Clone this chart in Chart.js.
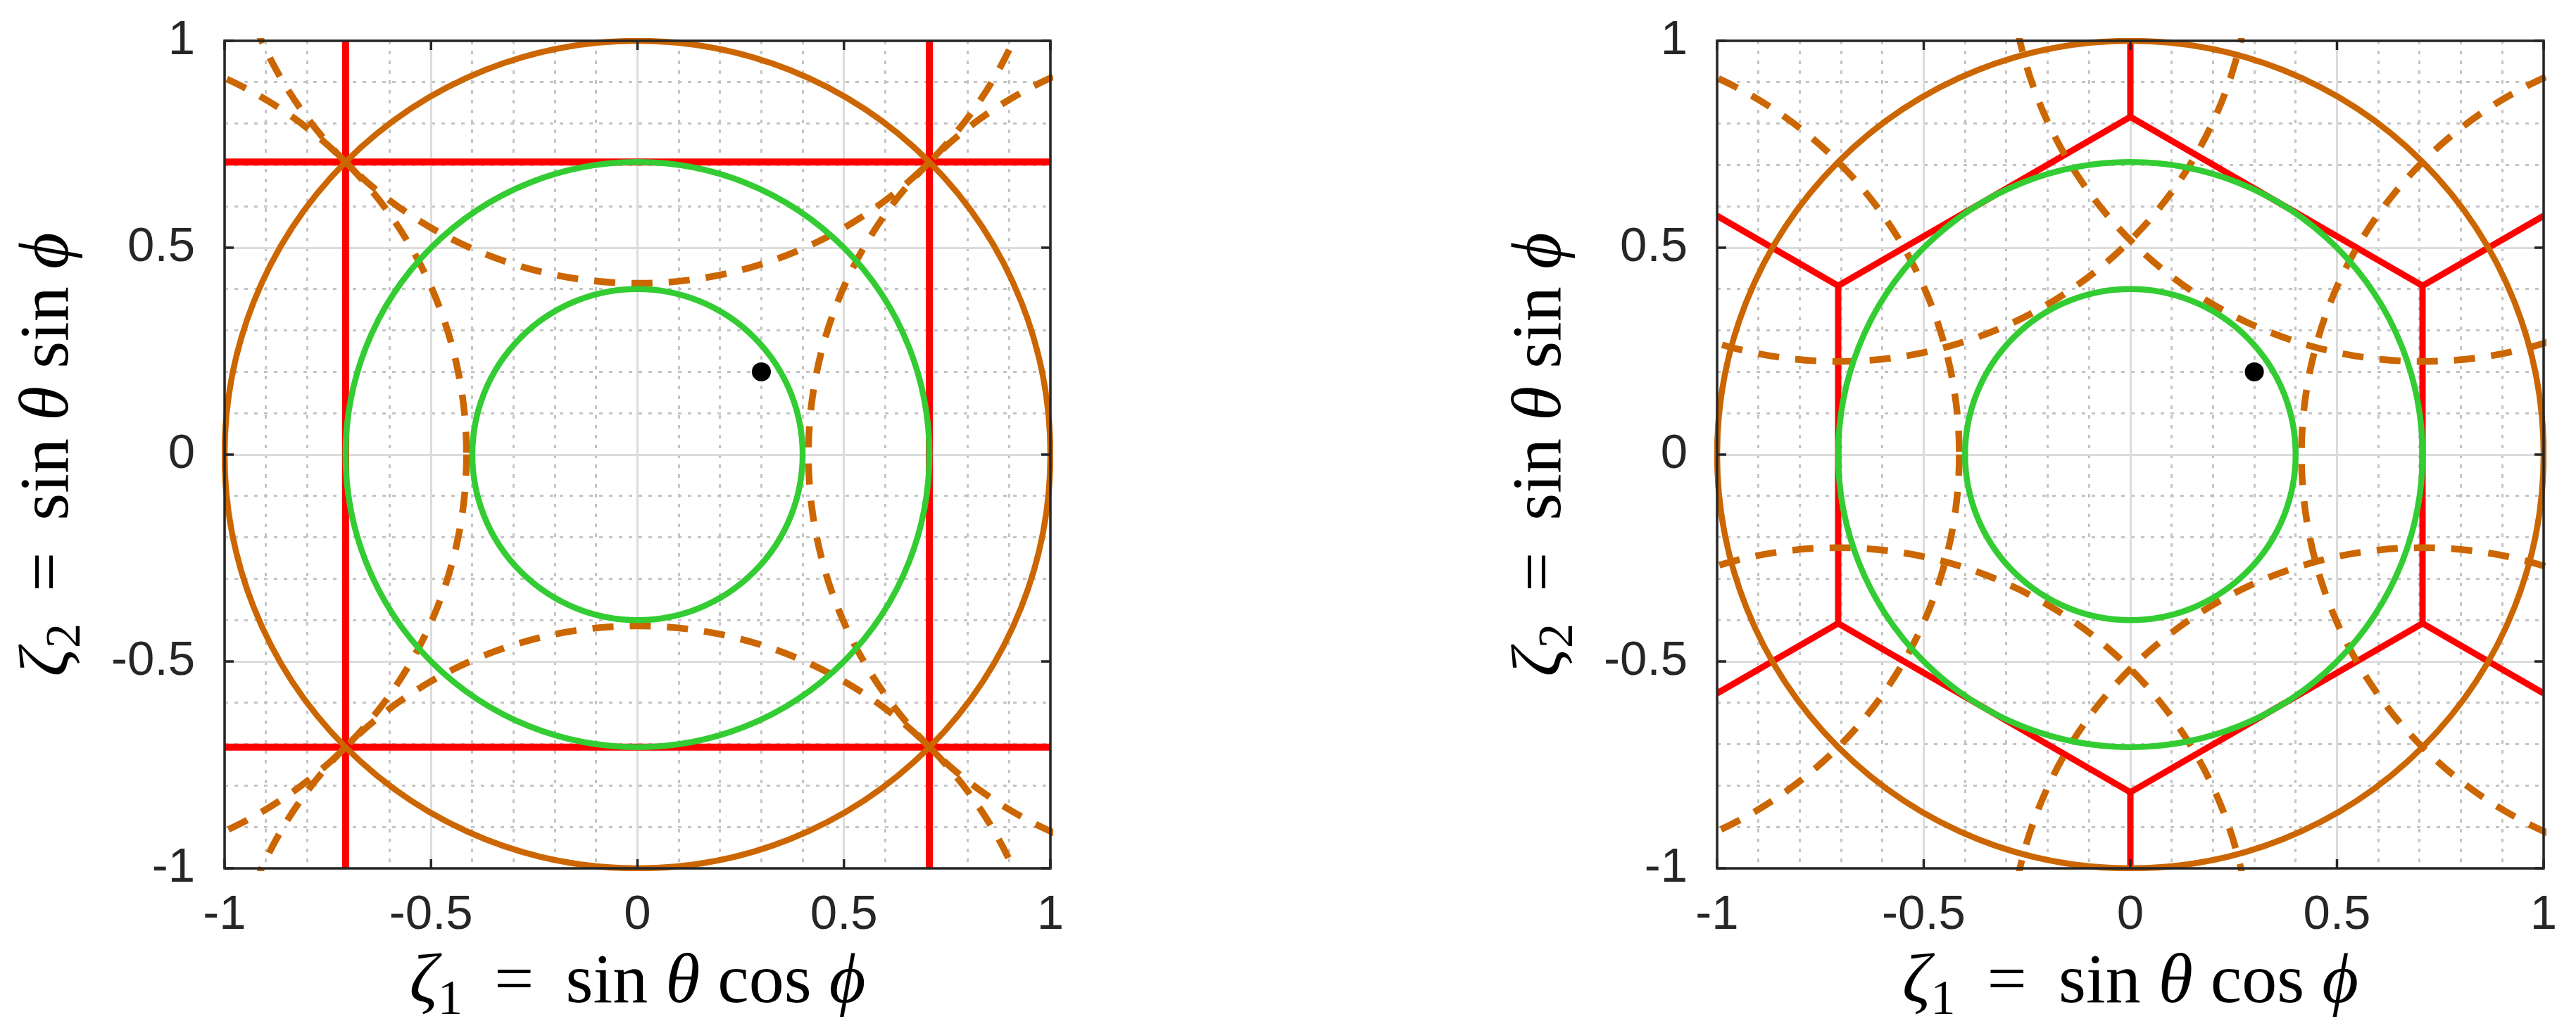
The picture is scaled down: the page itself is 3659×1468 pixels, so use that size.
<!DOCTYPE html>
<html>
<head>
<meta charset="utf-8">
<script src="https://cdn.jsdelivr.net/npm/chart.js@4.4.1/dist/chart.umd.min.js"></script>
<style>
  body { margin: 0; background: #fff; width: 3659px; height: 1468px; overflow: hidden; position: relative; }
  .painel { position: absolute; top: 0; width: 1830px; height: 1468px; }
</style>
</head>
<body>
<div class="painel" style="left:0"><canvas id="graficoQuadrado"></canvas></div>
<div class="painel" style="left:1829px"><canvas id="graficoHexagonal"></canvas></div>
<script>
// ticks
const valoresMaiores = [-1, -0.5, 0, 0.5, 1];
const rotulosMaiores = ['-1', '-0.5', '0', '0.5', '1'];
const valoresMenores = [-0.9, -0.8, -0.7, -0.6, -0.4, -0.3, -0.2, -0.1, 0.1, 0.2, 0.3, 0.4, 0.6, 0.7, 0.8, 0.9];

// circulos comuns aos dois graficos
const raioEsfera = [1.0];
const raiosVerdes = [0.4, 0.707];
const raioTracejado = 1.0;
const pontoX = [0.3];
const pontoY = [0.2];

// grafico quadrado
const bissetrizesX = [-0.707, 0.707];
const bissetrizesY = [-0.707, 0.707];
const centrosQuadX = [1.414, 0, -1.414, 0];
const centrosQuadY = [0, 1.414, 0, -1.414];

// grafico hexagonal
const hexVerticesX = [0, 0.707, 0.707, 0, -0.707, -0.707];
const hexVerticesY = [0.816, 0.408, -0.408, -0.816, -0.408, 0.408];
const raiosFimX = [0, 1, 1, 0, -1, -1];
const raiosFimY = [1, 0.577, -0.577, -1, -0.577, 0.577];
const centrosHexX = [1.414, 0.707, -0.707, -1.414, -0.707, 0.707];
const centrosHexY = [0, 1.225, 1.225, 0, -1.225, -1.225];

const FONTE_SANS = '"Liberation Sans", Arial, sans-serif';
const FONTE_SERIF = '"Liberation Serif", "DejaVu Serif", serif';
const LARANJA = '#cc6600';
const VERDE = '#33cc33';
const VERMELHO = '#ff0000';

const tituloX = [
  { t: '\u03B6', it: true },
  { t: '1', sub: true },
  { t: ' \u2009=\u2009 sin ' },
  { t: '\u03B8', it: true },
  { t: ' cos ' },
  { t: '\u03D5', it: true }
];
const tituloY = [
  { t: '\u03B6', it: true },
  { t: '2', sub: true },
  { t: ' \u2009=\u2009 sin ' },
  { t: '\u03B8', it: true },
  { t: ' sin ' },
  { t: '\u03D5', it: true }
];

function zeraPadding(s) {
  s.paddingTop = 0; s.paddingBottom = 0; s.paddingLeft = 0; s.paddingRight = 0;
}

function criarEixos(larguraY) {
  const maior = pos => ({
    type: 'linear', position: pos, min: -1, max: 1,
    afterBuildTicks: s => { s.ticks = valoresMaiores.map(v => ({ value: v })); },
    ticks: {
      callback: (v, i) => rotulosMaiores[i],
      font: { family: FONTE_SANS, size: 69 },
      color: '#262626',
      padding: pos === 'left' ? 42 : 26,
      autoSkip: false, maxRotation: 0, minRotation: 0
    },
    grid: { color: '#dcdcdc', lineWidth: 3, drawTicks: false },
    border: { display: false },
    afterFit: s => {
      zeraPadding(s);
      if (pos === 'left') s.width = larguraY; else s.height = 234;
    }
  });
  const menor = pos => ({
    type: 'linear', position: pos, min: -1, max: 1,
    afterBuildTicks: s => { s.ticks = valoresMenores.map(v => ({ value: v })); },
    ticks: { display: false },
    grid: { color: '#c4c4c4', lineWidth: 3, drawTicks: false, borderDash: [5, 9] },
    border: { display: false, dash: [5, 9] },
    afterFit: s => {
      zeraPadding(s);
      if (pos === 'left') s.width = 0; else s.height = 0;
    }
  });
  return { xMenor: menor('bottom'), yMenor: menor('left'), x: maior('bottom'), y: maior('left') };
}

function segmento(x1, y1, x2, y2, largura) {
  return {
    data: [{ x: x1, y: y1 }, { x: x2, y: y2 }],
    showLine: true, borderColor: VERMELHO, borderWidth: largura,
    pointRadius: 0, borderCapStyle: 'butt'
  };
}

function textoMisto(ctx, partes, tamanho) {
  const fonte = p => (p.it ? 'italic ' : '') + Math.round(p.sub ? tamanho * 0.7 : tamanho) + 'px ' + FONTE_SERIF;
  let total = 0;
  partes.forEach(p => { ctx.font = fonte(p); p.w = ctx.measureText(p.t).width; total += p.w; });
  let x = -total / 2;
  partes.forEach(p => {
    ctx.font = fonte(p);
    ctx.fillText(p.t, x, p.sub ? tamanho * 0.17 : 0);
    x += p.w;
  });
}

function criarPlugin(cfg) {
  return {
    id: 'desenhoFisico',
    afterDatasetDraw(chart, args) {
      if (args.index !== 1) return;
      const { ctx, chartArea: a } = chart;
      const sx = chart.scales.x, sy = chart.scales.y;
      const circulo = (cx, cy, r) => {
        const px = sx.getPixelForValue(cx), py = sy.getPixelForValue(cy);
        const rx = Math.abs(sx.getPixelForValue(cx + r) - px);
        const ry = Math.abs(sy.getPixelForValue(cy + r) - py);
        ctx.beginPath();
        ctx.ellipse(px, py, rx, ry, 0, 0, Math.PI * 2);
        ctx.stroke();
      };
      ctx.save();
      ctx.beginPath();
      ctx.rect(a.left - 4, a.top - 4, a.right - a.left + 8, a.bottom - a.top + 8);
      ctx.clip();
      // circulos tracejados deslocados
      ctx.strokeStyle = LARANJA;
      ctx.lineWidth = 9.5;
      ctx.setLineDash([30, 23]);
      cfg.centrosX.forEach((cx, i) => circulo(cx, cfg.centrosY[i], raioTracejado));
      ctx.setLineDash([]);
      ctx.lineWidth = 8.5;
      raioEsfera.forEach(r => circulo(0, 0, r));
      ctx.strokeStyle = VERDE;
      raiosVerdes.forEach(r => circulo(0, 0, r));
      ctx.restore();
    },
    afterDraw(chart) {
      const { ctx, chartArea: a } = chart;
      const sx = chart.scales.x, sy = chart.scales.y;
      ctx.save();
      ctx.strokeStyle = '#262626';
      ctx.lineWidth = 3.5;
      ctx.strokeRect(a.left, a.top, a.right - a.left, a.bottom - a.top);
      // marcas internas
      ctx.beginPath();
      valoresMaiores.forEach(v => {
        const px = sx.getPixelForValue(v), py = sy.getPixelForValue(v);
        ctx.moveTo(px, a.bottom); ctx.lineTo(px, a.bottom - 13);
        ctx.moveTo(px, a.top); ctx.lineTo(px, a.top + 13);
        ctx.moveTo(a.left, py); ctx.lineTo(a.left + 13, py);
        ctx.moveTo(a.right, py); ctx.lineTo(a.right - 13, py);
      });
      ctx.stroke();
      // titulos dos eixos
      ctx.fillStyle = '#000';
      ctx.textAlign = 'left';
      ctx.textBaseline = 'alphabetic';
      ctx.save();
      ctx.translate((a.left + a.right) / 2, a.bottom + 190);
      textoMisto(ctx, tituloX, 100);
      ctx.restore();
      ctx.save();
      ctx.translate(a.left - 223, (a.top + a.bottom) / 2);
      ctx.rotate(-Math.PI / 2);
      textoMisto(ctx, tituloY, 100);
      ctx.restore();
      ctx.restore();
    }
  };
}

function opcoes(larguraY, direita) {
  return {
    responsive: true,
    maintainAspectRatio: false,
    animation: false,
    events: [],
    layout: { padding: { left: 0, top: 58, right: direita, bottom: 0 } },
    plugins: { legend: { display: false }, tooltip: { enabled: false }, title: { display: false } },
    scales: criarEixos(larguraY)
  };
}

function pontoPreto() {
  return {
    data: pontoX.map((x, i) => ({ x: x, y: pontoY[i] })),
    pointRadius: 13.5, pointBackgroundColor: '#000', pointBorderWidth: 0, showLine: false
  };
}

function gerarGraficoQuadrado() {
  const datasets = [pontoPreto()];
  bissetrizesX.forEach(x => datasets.push(segmento(x, -1, x, 1, 10)));
  bissetrizesY.forEach(y => datasets.push(segmento(-1, y, 1, y, 10)));
  const ctx = document.getElementById('graficoQuadrado').getContext('2d');
  new Chart(ctx, {
    type: 'scatter',
    data: { datasets: datasets },
    options: opcoes(319, 338),
    plugins: [criarPlugin({ centrosX: centrosQuadX, centrosY: centrosQuadY })]
  });
}

function gerarGraficoHexagonal() {
  const datasets = [pontoPreto()];
  const hexagono = hexVerticesX.map((x, i) => ({ x: x, y: hexVerticesY[i] }));
  hexagono.push({ x: hexVerticesX[0], y: hexVerticesY[0] });
  datasets.push({
    data: hexagono, showLine: true, borderColor: VERMELHO, borderWidth: 9,
    pointRadius: 0, borderJoinStyle: 'miter'
  });
  hexVerticesX.forEach((x, i) => datasets.push(segmento(x, hexVerticesY[i], raiosFimX[i], raiosFimY[i], 9)));
  const ctx = document.getElementById('graficoHexagonal').getContext('2d');
  new Chart(ctx, {
    type: 'scatter',
    data: { datasets: datasets },
    options: opcoes(610, 46),
    plugins: [criarPlugin({ centrosX: centrosHexX, centrosY: centrosHexY })]
  });
}

gerarGraficoQuadrado();
gerarGraficoHexagonal();
</script>
</body>
</html>
